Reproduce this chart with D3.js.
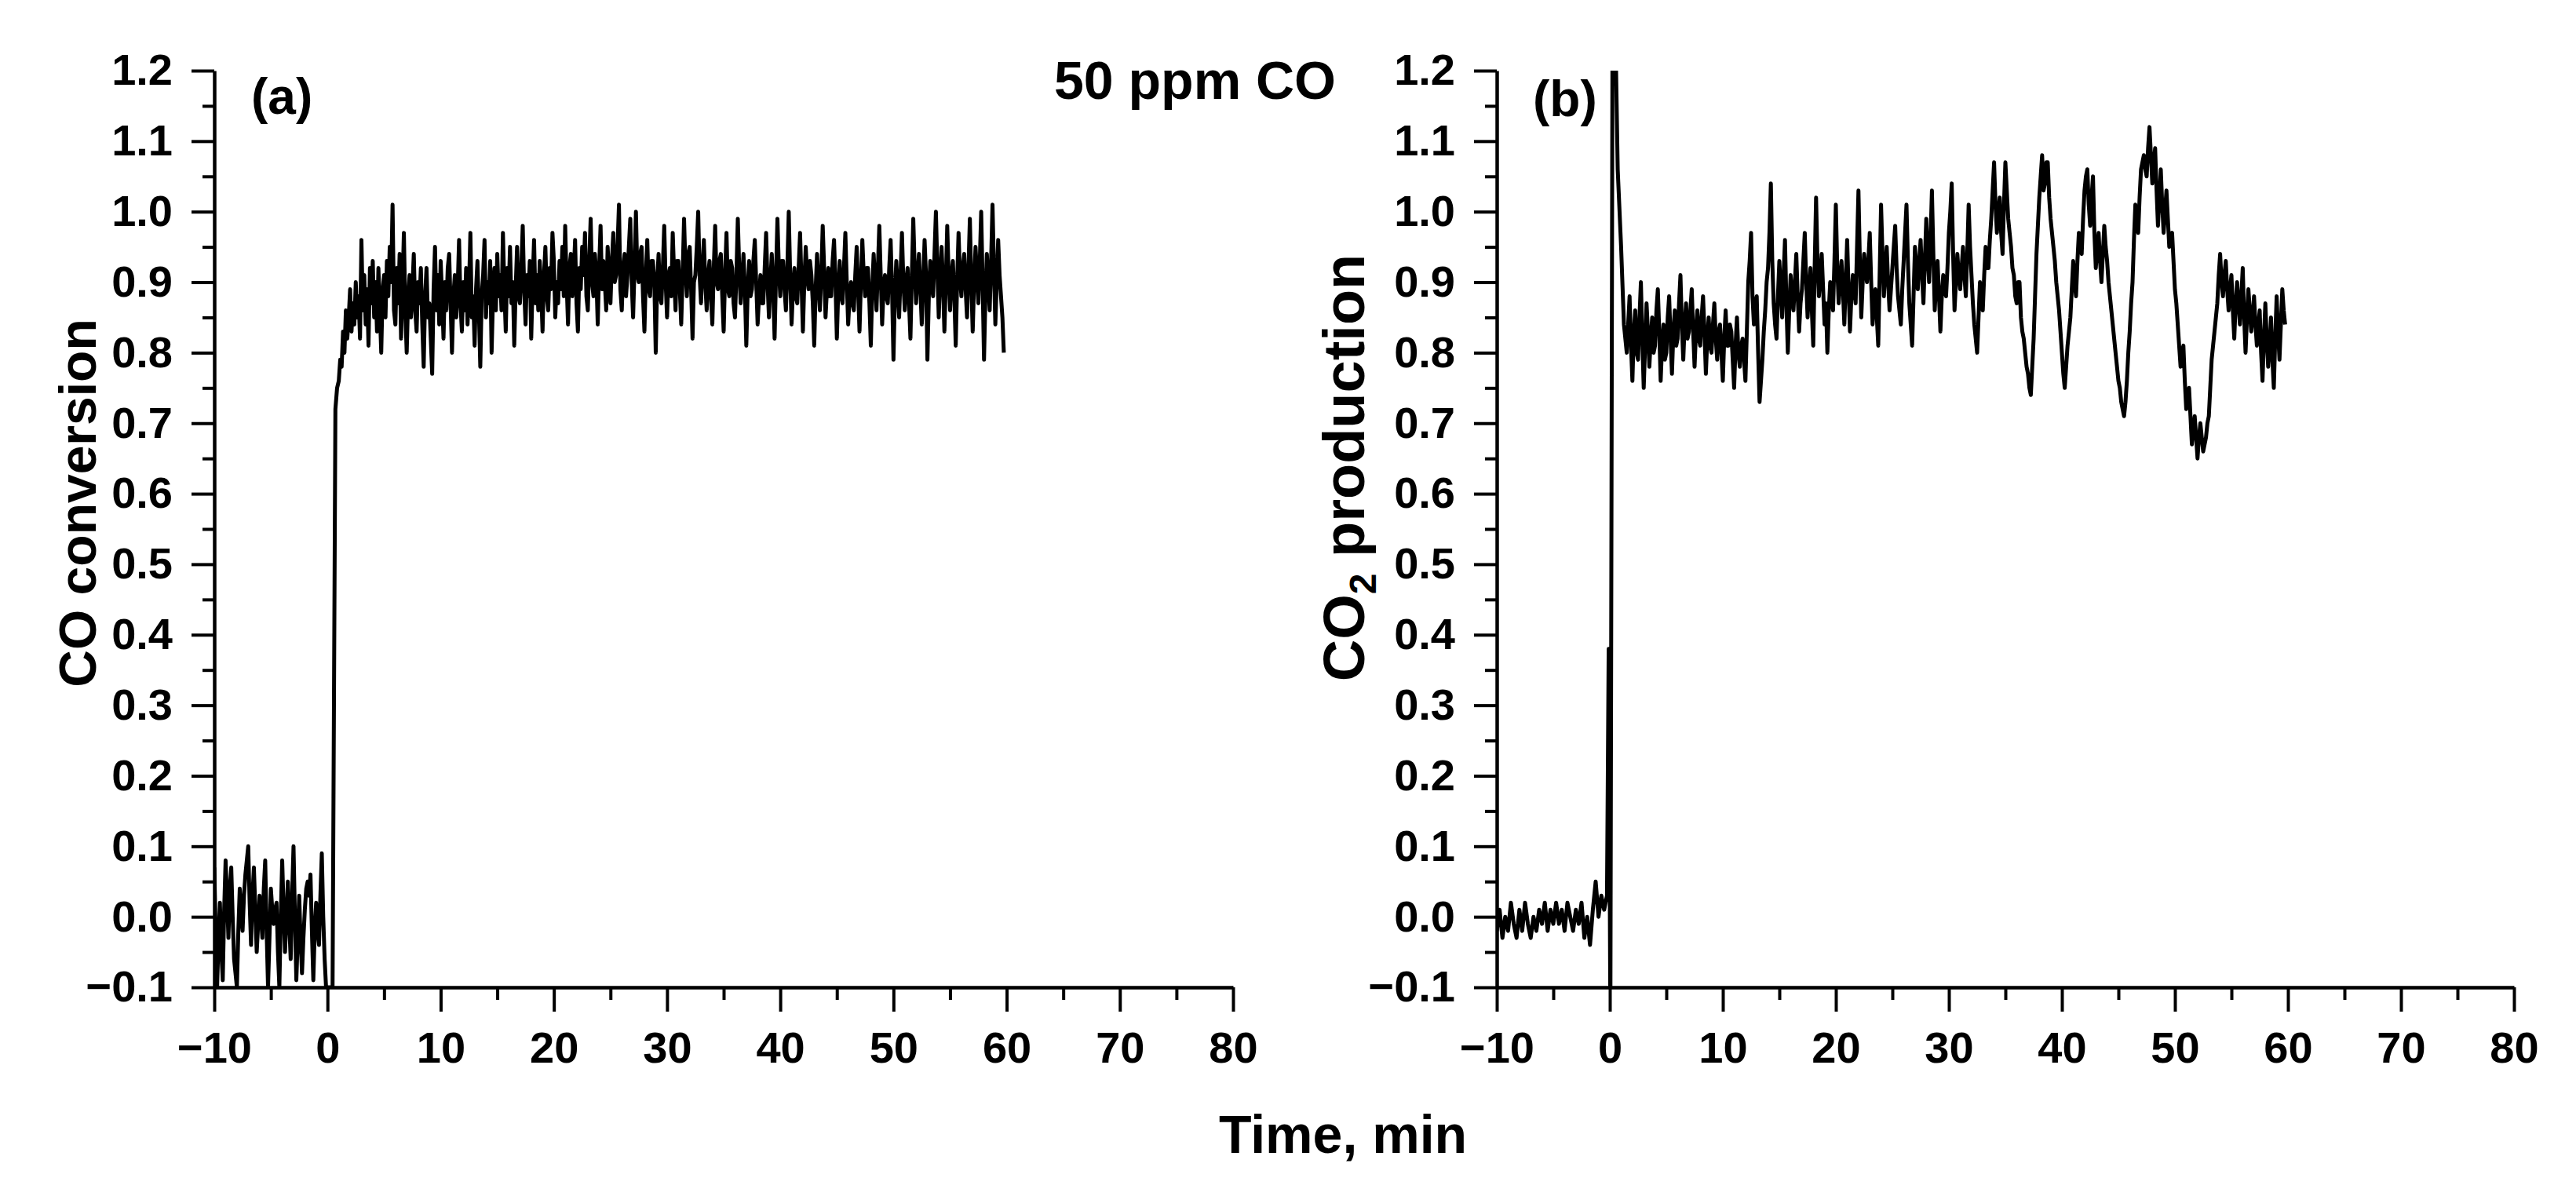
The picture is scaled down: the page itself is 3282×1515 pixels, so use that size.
<!DOCTYPE html>
<html><head><meta charset="utf-8">
<script src="https://cdn.jsdelivr.net/npm/d3@7"></script>
<style>
body{margin:0;background:#fff;}
svg{display:block;background:#fff;}
text{font-family:"Liberation Sans",Arial,Helvetica,sans-serif;font-weight:bold;fill:#000;}
</style>
</head><body>
<svg id="chart" width="3282" height="1515"></svg>
<script>
// ---------- axis ticks ----------
const xTicks = [-10, 0, 10, 20, 30, 40, 50, 60, 70, 80];
const xMinorTicks = [-5, 5, 15, 25, 35, 45, 55, 65, 75];
const yTicks = [-0.1, 0.0, 0.1, 0.2, 0.3, 0.4, 0.5, 0.6, 0.7, 0.8, 0.9, 1.0, 1.1, 1.2];
const yMinorTicks = [-0.05, 0.05, 0.15, 0.25, 0.35, 0.45, 0.55, 0.65, 0.75, 0.85, 0.95, 1.05, 1.15];

// ---------- panel (a): CO conversion ----------
// baseline before CO admission, sampled every 0.125 min from -10 min
const aBaseStart = -10, aBaseStep = 0.125;
const aBaseValues = [
  0.07, -0.02, -0.10, -0.03, 0.02, -0.05, -0.09, 0.01, 0.08, 0.03, -0.03, 0.04, 0.07, 0.00, -0.06, -0.08,
  -0.10, -0.02, 0.04, 0.01, -0.02, 0.03, 0.06, 0.08, 0.10, 0.02, -0.04, 0.03, 0.07, 0.01, -0.05, -0.01,
  0.03, 0.00, -0.03, 0.04, 0.08, -0.02, -0.10, -0.03, 0.04, 0.01, -0.01, 0.01, 0.02, -0.05, -0.10, 0.00,
  0.08, 0.01, -0.05, 0.00, 0.05, -0.01, -0.06, 0.03, 0.10, 0.00, -0.09, -0.03, 0.03, -0.03, -0.08, -0.03,
  0.01, 0.04, 0.05, 0.03, 0.06, -0.02, -0.09, -0.02, 0.02, -0.02, -0.04, 0.03, 0.09, 0.00, -0.06, -0.10
];
// step response
const aStepTimes = [0.45, 0.7, 0.85];
const aStepValues = [-0.10, 0.72, 0.75];
// main signal, every 0.125 min from 1.0 min
const aMainStart = 1.0, aMainStep = 0.125;
const aMainValues = [
  0.76, 0.79, 0.78, 0.83, 0.80, 0.86, 0.82, 0.85, 0.89, 0.83, 0.87, 0.84, 0.90, 0.85, 0.88, 0.82,
  0.96, 0.86, 0.91, 0.84, 0.89, 0.81, 0.92, 0.87, 0.93, 0.85, 0.90, 0.83, 0.92, 0.86, 0.80, 0.89,
  0.91, 0.85, 0.93, 0.88, 0.95, 0.90, 1.01, 0.86, 0.84, 0.92, 0.87, 0.94, 0.82, 0.89, 0.97, 0.86,
  0.80, 0.88, 0.91, 0.85, 0.89, 0.94, 0.86, 0.83, 0.90, 0.87, 0.92, 0.84, 0.78, 0.88, 0.92, 0.85,
  0.87, 0.82, 0.77, 0.89, 0.95, 0.86, 0.91, 0.84, 0.93, 0.88, 0.82, 0.90, 0.86, 0.92, 0.94, 0.87,
  0.80, 0.88, 0.91, 0.85, 0.89, 0.96, 0.87, 0.83, 0.90, 0.86, 0.92, 0.84, 0.89, 0.97, 0.85, 0.88,
  0.81, 0.89, 0.93, 0.86, 0.78, 0.88, 0.91, 0.96, 0.85, 0.90, 0.87, 0.93, 0.80, 0.88, 0.92, 0.86,
  0.94, 0.88, 0.91, 0.86, 0.97, 0.89, 0.83, 0.92, 0.88, 0.95, 0.87, 0.90, 0.81, 0.89, 0.95, 0.88,
  0.87, 0.92, 0.98, 0.89, 0.84, 0.91, 0.88, 0.93, 0.82, 0.90, 0.96, 0.87, 0.91, 0.86, 0.93, 0.89,
  0.83, 0.91, 0.95, 0.88, 0.86, 0.92, 0.89, 0.97, 0.93, 0.85, 0.90, 0.87, 0.93, 0.89, 0.95, 0.88,
  0.98, 0.90, 0.84, 0.92, 0.94, 0.88, 0.91, 0.96, 0.87, 0.83, 0.92, 0.89, 0.95, 0.91, 0.97, 0.88,
  0.86, 0.93, 0.99, 0.90, 0.88, 0.94, 0.91, 0.84, 0.92, 0.98, 0.89, 0.93, 0.90, 0.86, 0.95, 0.91,
  0.87, 0.93, 0.97, 0.90, 0.91, 0.95, 1.01, 0.89, 0.86, 0.92, 0.94, 0.88, 0.91, 0.95, 0.99, 0.90,
  0.85, 0.92, 1.00, 0.91, 0.90, 0.94, 0.95, 0.88, 0.83, 0.91, 0.96, 0.89, 0.88, 0.93, 0.93, 0.90,
  0.80, 0.90, 0.94, 0.88, 0.87, 0.92, 0.98, 0.90, 0.85, 0.91, 0.92, 0.88, 0.97, 0.91, 0.86, 0.93,
  0.93, 0.89, 0.84, 0.91, 0.99, 0.92, 0.88, 0.94, 0.95, 0.89, 0.82, 0.90, 0.91, 0.95, 1.00, 0.91,
  0.87, 0.92, 0.96, 0.90, 0.86, 0.91, 0.93, 0.88, 0.84, 0.92, 0.98, 0.90, 0.89, 0.93, 0.94, 0.88,
  0.83, 0.91, 0.97, 0.89, 0.88, 0.93, 0.92, 0.87, 0.85, 0.91, 0.99, 0.92, 0.87, 0.90, 0.94, 0.89,
  0.81, 0.89, 0.93, 0.88, 0.89, 0.93, 0.96, 0.90, 0.84, 0.88, 0.91, 0.87, 0.87, 0.92, 0.97, 0.90,
  0.85, 0.90, 0.94, 0.89, 0.82, 0.91, 0.99, 0.92, 0.88, 0.93, 0.93, 0.89, 0.86, 0.92, 1.00, 0.91,
  0.84, 0.89, 0.92, 0.88, 0.87, 0.92, 0.97, 0.90, 0.83, 0.90, 0.95, 0.91, 0.89, 0.93, 0.91, 0.87,
  0.81, 0.89, 0.94, 0.90, 0.86, 0.91, 0.98, 0.92, 0.85, 0.89, 0.92, 0.88, 0.88, 0.93, 0.96, 0.90,
  0.82, 0.89, 0.93, 0.88, 0.87, 0.92, 0.97, 0.90, 0.84, 0.88, 0.90, 0.87, 0.86, 0.91, 0.95, 0.89,
  0.83, 0.90, 0.96, 0.91, 0.88, 0.92, 0.92, 0.87, 0.81, 0.89, 0.94, 0.90, 0.86, 0.92, 0.98, 0.91,
  0.84, 0.89, 0.91, 0.88, 0.87, 0.92, 0.96, 0.89, 0.79, 0.88, 0.93, 0.89, 0.85, 0.91, 0.97, 0.90,
  0.86, 0.90, 0.92, 0.87, 0.82, 0.91, 0.99, 0.92, 0.87, 0.91, 0.94, 0.89, 0.84, 0.90, 0.96, 0.91,
  0.79, 0.88, 0.93, 0.90, 0.88, 0.94, 1.00, 0.92, 0.85, 0.91, 0.95, 0.90, 0.83, 0.90, 0.98, 0.91,
  0.86, 0.91, 0.93, 0.88, 0.81, 0.90, 0.97, 0.91, 0.88, 0.92, 0.94, 0.89, 0.85, 0.92, 0.99, 0.90,
  0.83, 0.90, 0.95, 0.91, 0.87, 0.93, 1.00, 0.90, 0.79, 0.88, 0.94, 0.90, 0.86, 0.93, 1.01, 0.92,
  0.84, 0.90, 0.96, 0.91, 0.88, 0.85, 0.80
];

// ---------- panel (b): CO2 production ----------
const bBaseStart = -10, bBaseStep = 0.25;
const bBaseValues = [
  -0.02, 0.01, -0.03, 0.00, -0.02, 0.02, -0.01, -0.03,
  0.01, -0.02, 0.02, -0.01, -0.03, 0.00, -0.02, 0.01,
  -0.01, 0.02, -0.02, 0.01, -0.01, 0.02, -0.01, 0.01,
  -0.02, 0.02, 0.00, -0.02, 0.01, -0.01, 0.02, -0.03,
  0.00, -0.04, 0.01, 0.05, 0.00, 0.03, 0.01, 0.03
];
const bStepTimes = [-0.1, 0.05, 0.25, 0.45, 0.7, 1.0, 1.25];
const bStepValues = [0.38, -0.15, 1.35, 1.30, 1.06, 0.95, 0.84];
const bMainStart = 1.5, bMainStep = 0.125;
const bMainValues = [
  0.80, 0.84, 0.88, 0.81, 0.76, 0.83, 0.86, 0.80, 0.79, 0.85, 0.90, 0.82, 0.75, 0.81, 0.87, 0.83,
  0.78, 0.82, 0.85, 0.80, 0.81, 0.86, 0.89, 0.83, 0.76, 0.81, 0.84, 0.79, 0.80, 0.85, 0.88, 0.82,
  0.77, 0.83, 0.86, 0.81, 0.82, 0.87, 0.91, 0.84, 0.79, 0.84, 0.87, 0.82, 0.83, 0.86, 0.89, 0.83,
  0.78, 0.83, 0.86, 0.82, 0.81, 0.85, 0.88, 0.83, 0.77, 0.82, 0.85, 0.81, 0.80, 0.84, 0.87, 0.82,
  0.79, 0.83, 0.84, 0.80, 0.76, 0.82, 0.86, 0.81, 0.81, 0.84, 0.83, 0.79, 0.75, 0.81, 0.85, 0.80,
  0.78, 0.81, 0.82, 0.79, 0.76, 0.83, 0.90, 0.93, 0.97, 0.88, 0.84, 0.87, 0.88, 0.80, 0.73, 0.76,
  0.79, 0.83, 0.86, 0.90, 0.92, 0.97, 1.04, 0.93, 0.87, 0.84, 0.82, 0.88, 0.93, 0.89, 0.85, 0.91,
  0.96, 0.87, 0.80, 0.86, 0.91, 0.88, 0.86, 0.90, 0.94, 0.88, 0.83, 0.87, 0.89, 0.93, 0.97, 0.90,
  0.85, 0.89, 0.92, 0.86, 0.81, 0.92, 1.02, 0.93, 0.88, 0.91, 0.94, 0.89, 0.84, 0.87, 0.80, 0.86,
  0.90, 0.88, 0.86, 0.93, 1.01, 0.92, 0.87, 0.90, 0.93, 0.89, 0.84, 0.90, 0.96, 0.89, 0.83, 0.88,
  0.91, 0.89, 0.87, 0.95, 1.03, 0.93, 0.85, 0.90, 0.94, 0.92, 0.90, 0.93, 0.97, 0.90, 0.84, 0.87,
  0.89, 0.85, 0.81, 0.91, 1.01, 0.94, 0.88, 0.92, 0.95, 0.90, 0.86, 0.89, 0.92, 0.95, 0.98, 0.92,
  0.88, 0.86, 0.84, 0.89, 0.93, 0.97, 1.01, 0.93, 0.87, 0.84, 0.81, 0.88, 0.95, 0.92, 0.89, 0.93,
  0.96, 0.91, 0.87, 0.93, 0.99, 0.94, 0.90, 0.96, 1.03, 0.94, 0.86, 0.90, 0.93, 0.88, 0.83, 0.88,
  0.91, 0.89, 0.88, 0.92, 0.97, 1.00, 1.04, 0.94, 0.86, 0.90, 0.94, 0.91, 0.89, 0.92, 0.95, 0.91,
  0.88, 0.94, 1.01, 0.95, 0.91, 0.87, 0.84, 0.82, 0.80, 0.85, 0.90, 0.88, 0.86, 0.91, 0.95, 0.92,
  0.92, 0.96, 0.99, 1.03, 1.07, 1.01, 0.97, 1.00, 1.02, 0.97, 0.94, 1.01, 1.07, 1.03, 0.99, 0.97,
  0.95, 0.92, 0.91, 0.88, 0.87, 0.90, 0.90, 0.85, 0.83, 0.82, 0.80, 0.78, 0.77, 0.75, 0.74, 0.78,
  0.82, 0.88, 0.94, 0.98, 1.02, 1.05, 1.08, 1.03, 1.04, 1.07, 1.07, 1.02, 0.99, 0.97, 0.95, 0.93,
  0.90, 0.88, 0.86, 0.83, 0.80, 0.77, 0.75, 0.78, 0.81, 0.83, 0.85, 0.89, 0.93, 0.90, 0.88, 0.93,
  0.97, 0.95, 0.94, 0.99, 1.03, 1.05, 1.06, 1.01, 0.98, 1.02, 1.05, 0.97, 0.92, 0.95, 0.97, 0.93,
  0.90, 0.94, 0.98, 0.95, 0.93, 0.90, 0.88, 0.86, 0.84, 0.82, 0.80, 0.78, 0.76, 0.75, 0.73, 0.72,
  0.71, 0.73, 0.76, 0.80, 0.83, 0.87, 0.90, 0.96, 1.01, 0.99, 0.97, 1.02, 1.06, 1.07, 1.08, 1.06,
  1.05, 1.09, 1.12, 1.08, 1.04, 1.07, 1.09, 1.03, 0.98, 1.02, 1.06, 1.01, 0.97, 1.00, 1.03, 0.99,
  0.95, 0.96, 0.97, 0.93, 0.89, 0.87, 0.84, 0.81, 0.78, 0.80, 0.81, 0.76, 0.72, 0.74, 0.75, 0.71,
  0.67, 0.69, 0.71, 0.68, 0.65, 0.68, 0.70, 0.68, 0.66, 0.67, 0.68, 0.70, 0.71, 0.75, 0.79, 0.81,
  0.83, 0.85, 0.87, 0.91, 0.94, 0.90, 0.88, 0.91, 0.93, 0.89, 0.86, 0.89, 0.91, 0.86, 0.82, 0.87,
  0.90, 0.87, 0.84, 0.88, 0.92, 0.85, 0.80, 0.85, 0.89, 0.86, 0.83, 0.85, 0.88, 0.84, 0.81, 0.84,
  0.86, 0.80, 0.76, 0.82, 0.87, 0.82, 0.78, 0.81, 0.85, 0.79, 0.75, 0.82, 0.88, 0.83, 0.79, 0.84,
  0.89, 0.86, 0.84
];

// ---------- helpers ----------
function regular(start, step, values) {
  return values.map((v, i) => ({ t: start + i * step, v: v }));
}
function irregular(times, values) {
  return times.map((t, i) => ({ t: t, v: values[i] }));
}
const seriesA = [].concat(
  regular(aBaseStart, aBaseStep, aBaseValues),
  irregular(aStepTimes, aStepValues),
  regular(aMainStart, aMainStep, aMainValues)
);
const seriesB = [].concat(
  regular(bBaseStart, bBaseStep, bBaseValues),
  irregular(bStepTimes, bStepValues),
  regular(bMainStart, bMainStep, bMainValues)
);

const svg = d3.select("#chart");
const yTop = 90, yBottom = 1258;
const fmt = d3.format(".1f");

function panel(id, left, right, data) {
  const x = d3.scaleLinear().domain([-10, 80]).range([left, right]);
  const y = d3.scaleLinear().domain([-0.1, 1.2]).range([yBottom, yTop]);
  const g = svg.append("g");

  g.append("clipPath").attr("id", "clip" + id)
    .append("rect").attr("x", left).attr("y", yTop)
    .attr("width", right - left).attr("height", yBottom - yTop);

  // minor ticks
  g.append("g").attr("transform", `translate(0,${yBottom})`)
    .call(d3.axisBottom(x).tickValues(xMinorTicks).tickSize(16).tickSizeOuter(0).tickFormat(""))
    .call(s => s.select(".domain").remove());
  g.append("g").attr("transform", `translate(${left},0)`)
    .call(d3.axisLeft(y).tickValues(yMinorTicks).tickSize(15).tickSizeOuter(0).tickFormat(""))
    .call(s => s.select(".domain").remove());

  // major axes
  g.append("g").attr("transform", `translate(0,${yBottom})`)
    .call(d3.axisBottom(x).tickValues(xTicks).tickSize(31).tickSizeOuter(0).tickPadding(25).tickFormat(d3.format("d")));
  g.append("g").attr("transform", `translate(${left},0)`)
    .call(d3.axisLeft(y).tickValues(yTicks).tickSize(29).tickSizeOuter(0).tickPadding(24).tickFormat(fmt));

  g.selectAll(".tick line").attr("stroke", "#000").attr("stroke-width", 4);
  g.selectAll(".domain").attr("stroke", "#000").attr("stroke-width", 4.5);
  g.selectAll(".tick text").attr("font-size", 56).attr("fill", "#000")
    .attr("font-family", '"Liberation Sans",Arial,sans-serif').attr("font-weight", "bold");

  const line = d3.line().x(d => x(d.t)).y(d => y(d.v));
  g.append("path").datum(data)
    .attr("clip-path", `url(#clip${id})`)
    .attr("fill", "none").attr("stroke", "#000")
    .attr("stroke-width", 5).attr("stroke-linejoin", "round")
    .attr("d", line);
}

panel("a", 273, 1571, seriesA);
panel("b", 1907, 3203, seriesB);

// labels
svg.append("text").attr("x", 320).attr("y", 145).attr("font-size", 64).text("(a)");
svg.append("text").attr("x", 1953).attr("y", 148).attr("font-size", 64).text("(b)");
svg.append("text").attr("x", 1702).attr("y", 126).attr("font-size", 68)
  .attr("text-anchor", "end").text("50 ppm CO");

svg.append("text").attr("transform", "translate(122,641) rotate(-90)")
  .attr("text-anchor", "middle").attr("font-size", 66).text("CO conversion");

const t2 = svg.append("text").attr("transform", "translate(1738,596) rotate(-90)")
  .attr("text-anchor", "middle").attr("font-size", 74);
t2.append("tspan").text("CO");
t2.append("tspan").attr("font-size", 48).attr("dy", 15).text("2");
t2.append("tspan").attr("dy", -15).text(" production");

svg.append("text").attr("x", 1711).attr("y", 1469).attr("font-size", 68)
  .attr("text-anchor", "middle").text("Time, min");
</script>
</body></html>
